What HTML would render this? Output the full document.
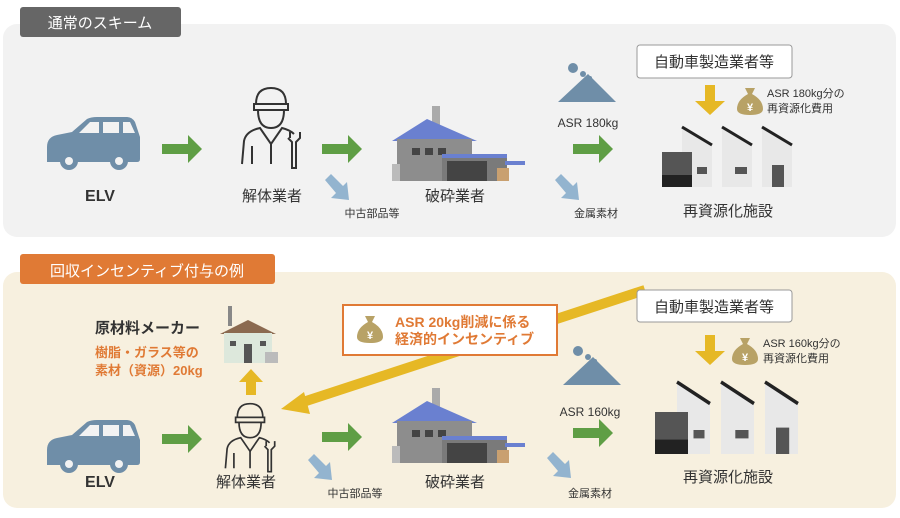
<!DOCTYPE html>
<html><head><meta charset="utf-8"><style>
body{margin:0;background:#fff}
svg text{font-family:"Liberation Sans","Noto Sans CJK JP",sans-serif}
</style></head><body>
<svg width="900" height="513" viewBox="0 0 900 513" xmlns="http://www.w3.org/2000/svg">
<defs>
<g id="car"><path d="M0,30 Q0,20 10,18 L25,15 L40,2 Q44,0 50,0 L80,0 Q85,0 88,5 L93,20 L93,42 Q93,45 90,45 L0,45 Z" fill="#6f8ea8"/>
<path d="M32,16 L43,5 L52,5 L52,16Z M56,5 L72,5 L72,16 L56,16Z M76,5 L83,5 L88,16 L76,16Z" fill="#f2f2f2"/>
<circle cx="22" cy="44" r="9" fill="#6f8ea8"/><circle cx="22" cy="44" r="4" fill="#f2f2f2"/>
<circle cx="72" cy="44" r="9" fill="#6f8ea8"/><circle cx="72" cy="44" r="4" fill="#f2f2f2"/></g>
<g id="garr"><path d="M0,9 L26,9 L26,0 L40,14 L26,28 L26,19 L0,19Z" fill="#5f9e45"/></g>
<g id="barr"><path d="M0,6 L6,0 L18,12 L22,8 L24,26 L6,24 L11,19Z" fill="#93b4cf"/></g>
<g id="worker" fill="none" stroke="#333" stroke-width="2">
<path d="M18,18 Q18,2 33,2 Q48,2 48,18 Z"/><path d="M16,18 L50,18 L50,24 L16,24Z"/>
<path d="M20,24 Q20,42 33,42 Q46,42 46,24"/>
<path d="M4,78 L6,55 Q8,45 22,42 L33,58 L44,42 Q52,44 56,48"/>
<path d="M14,60 L14,78 M33,58 L33,78"/>
<path d="M52,52 L52,46 M62,46 L62,52 L58,56 L58,82 L54,82 L54,56 L50,52"/></g>
<g id="factory"><rect x="40" y="0" width="8" height="25" fill="#aaa"/>
<path d="M0,35 L35,13 L85,35Z" fill="#6a80d0"/><rect x="5" y="33" width="75" height="42" fill="#8d8d8d"/>
<rect x="20" y="42" width="8" height="7" fill="#444"/><rect x="33" y="42" width="8" height="7" fill="#444"/><rect x="46" y="42" width="8" height="7" fill="#444"/>
<rect x="50" y="50" width="65" height="25" fill="#7a7a7a"/><rect x="50" y="48" width="65" height="4" fill="#6a80d0"/>
<rect x="55" y="55" width="40" height="20" fill="#444"/><rect x="113" y="55" width="20" height="4" fill="#6a80d0"/><rect x="105" y="62" width="12" height="13" fill="#c9a070"/>
<rect x="0" y="58" width="8" height="17" fill="#bbb"/></g>
<g id="pile"><path d="M0,38 L30,10 L58,38Z" fill="#6f8ea8"/><circle cx="15" cy="4" r="5" fill="#6f8ea8"/><circle cx="25" cy="10" r="3" fill="#6f8ea8"/><circle cx="32" cy="14" r="2" fill="#6f8ea8"/></g>
<g id="recyc"><path d="M20,0 L50,18 L50,60 L20,60Z M60,0 L90,18 L90,60 L60,60Z M100,0 L130,18 L130,60 L100,60Z" fill="#e8e8e8"/>
<path d="M20,0 L50,18 M60,0 L90,18 M100,0 L130,18" stroke="#222" stroke-width="3"/>
<rect x="0" y="25" width="30" height="35" fill="#555"/><rect x="0" y="48" width="30" height="12" fill="#222"/>
<rect x="35" y="40" width="10" height="7" fill="#555"/><rect x="73" y="40" width="12" height="7" fill="#555"/><rect x="110" y="38" width="12" height="22" fill="#555"/></g>
<g id="bag"><path d="M10,3 L20,3 L17,9 Q28,15 28,24 Q28,30 15,30 Q2,30 2,24 Q2,15 13,9Z" fill="#b8a266"/><text x="15" y="26" font-size="11" fill="#fff" text-anchor="middle" font-weight="bold">¥</text></g>
<g id="yd"><path d="M10,0 L20,0 L20,16 L30,16 L15,30 L0,16 L10,16Z" fill="#e6b825"/></g>
</defs>

<!-- top panel -->
<rect x="3" y="24" width="893" height="213" rx="14" fill="#f2f2f2"/>
<rect x="20" y="7" width="161" height="30" rx="3" fill="#666"/>
<text x="100" y="28" font-size="15" fill="#fff" text-anchor="middle">通常のスキーム</text>
<use href="#car" x="47" y="117"/>
<use href="#garr" x="162" y="135"/>
<text x="100" y="201" font-size="16" fill="#333" text-anchor="middle" font-weight="bold">ELV</text>
<use href="#worker" x="238" y="86"/>
<text x="272" y="201" font-size="15" fill="#333" text-anchor="middle">解体業者</text>
<use href="#garr" x="322" y="135"/>
<use href="#barr" x="325" y="174"/>
<text x="372" y="217" font-size="11" fill="#333" text-anchor="middle">中古部品等</text>
<use href="#factory" x="392" y="106"/>
<text x="455" y="201" font-size="15" fill="#333" text-anchor="middle">破砕業者</text>
<use href="#pile" x="558" y="64"/>
<text x="588" y="127" font-size="12" fill="#333" text-anchor="middle">ASR 180kg</text>
<use href="#garr" x="573" y="135"/>
<use href="#barr" x="555" y="174"/>
<text x="596" y="217" font-size="11" fill="#333" text-anchor="middle">金属素材</text>
<rect x="637" y="45" width="155" height="33" rx="3" fill="#fff" stroke="#999"/>
<text x="714" y="67" font-size="15" fill="#333" text-anchor="middle">自動車製造業者等</text>
<use href="#yd" x="695" y="85"/>
<use href="#bag" x="735" y="85"/>
<text x="767" y="97" font-size="11" fill="#333">ASR 180kg分の</text>
<text x="767" y="112" font-size="11" fill="#333">再資源化費用</text>
<use href="#recyc" x="662" y="127"/>
<text x="728" y="216" font-size="15" fill="#333" text-anchor="middle">再資源化施設</text>

<!-- bottom panel -->
<rect x="3" y="272" width="893" height="236" rx="14" fill="#f7f0df"/>
<rect x="20" y="254" width="255" height="30" rx="3" fill="#e07a35"/>
<text x="147" y="276" font-size="15" fill="#fff" text-anchor="middle">回収インセンティブ付与の例</text>
<path d="M645,290 L300,403" stroke="#e6b825" stroke-width="10"/>
<path d="M281,409 L304,392 L310,414Z" fill="#e6b825"/>
<rect x="343" y="305" width="214" height="50" fill="#fff" stroke="#e07a35" stroke-width="2"/>
<use href="#bag" x="355" y="313"/>
<text x="395" y="327" font-size="14" fill="#e07a35" font-weight="bold">ASR 20kg削減に係る</text>
<text x="395" y="344" font-size="14" fill="#e07a35" font-weight="bold">経済的インセンティブ</text>
<text x="95" y="333" font-size="15" fill="#333" font-weight="bold">原材料メーカー</text>
<text x="95" y="357" font-size="13" fill="#e07a35" font-weight="bold">樹脂・ガラス等の</text>
<text x="95" y="375" font-size="13" fill="#e07a35" font-weight="bold">素材（資源）20kg</text>
<rect x="228" y="306" width="4" height="20" fill="#888"/>
<path d="M220,334 L248,320 L276,334Z" fill="#8b6a50"/>
<rect x="224" y="333" width="48" height="30" fill="#dde8dc"/>
<rect x="244" y="344" width="8" height="19" fill="#555"/>
<rect x="230" y="341" width="6" height="5" fill="#555"/><rect x="260" y="341" width="6" height="5" fill="#555"/>
<rect x="265" y="352" width="13" height="11" fill="#bbb"/>
<path d="M246,395 L246,382 L239,382 L251,369 L263,382 L256,382 L256,395Z" fill="#e6b825"/>
<use href="#car" x="47" y="420"/>
<use href="#garr" x="162" y="425"/>
<text x="100" y="487" font-size="16" fill="#333" text-anchor="middle" font-weight="bold">ELV</text>
<g transform="translate(222,402) scale(0.85)"><use href="#worker"/></g>
<text x="246" y="487" font-size="15" fill="#333" text-anchor="middle">解体業者</text>
<use href="#garr" x="322" y="423"/>
<use href="#barr" x="308" y="454"/>
<text x="355" y="497" font-size="11" fill="#333" text-anchor="middle">中古部品等</text>
<use href="#factory" x="392" y="388"/>
<text x="455" y="487" font-size="15" fill="#333" text-anchor="middle">破砕業者</text>
<use href="#pile" x="563" y="347"/>
<text x="590" y="416" font-size="12" fill="#333" text-anchor="middle">ASR 160kg</text>
<use href="#garr" x="573" y="419"/>
<use href="#barr" x="547" y="452"/>
<text x="590" y="497" font-size="11" fill="#333" text-anchor="middle">金属素材</text>
<rect x="637" y="290" width="155" height="32" rx="3" fill="#fff" stroke="#999"/>
<text x="714" y="312" font-size="15" fill="#333" text-anchor="middle">自動車製造業者等</text>
<use href="#yd" x="695" y="335"/>
<use href="#bag" x="730" y="335"/>
<text x="763" y="347" font-size="11" fill="#333">ASR 160kg分の</text>
<text x="763" y="362" font-size="11" fill="#333">再資源化費用</text>
<g transform="translate(655,382) scale(1.1,1.2)"><use href="#recyc"/></g>
<text x="728" y="482" font-size="15" fill="#333" text-anchor="middle">再資源化施設</text>
</svg>
</body></html>
